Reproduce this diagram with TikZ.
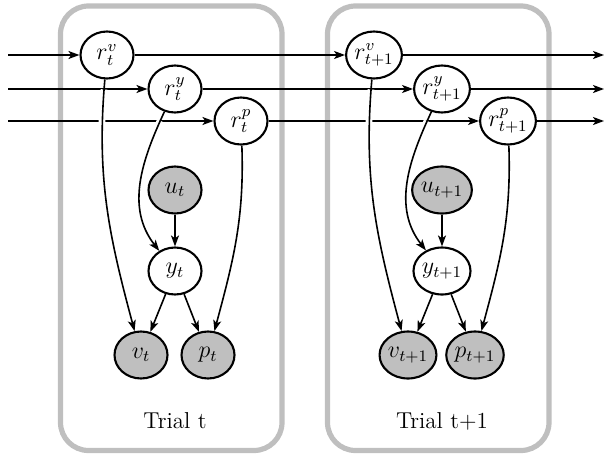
\documentclass[tikz,border=0pt]{standalone}
\usetikzlibrary{shapes.geometric,arrows.meta}
\begin{document}
\begin{tikzpicture}[x=0.5pt,y=0.5pt,
  var/.style={ellipse,draw,line width=1.05pt,minimum width=26.5pt,minimum height=23.5pt,inner sep=0pt,fill=white},
  obs/.style={var,fill=black!25},
  arr/.style={line width=0.8pt,-{Stealth[length=5.5pt,width=4pt,inset=1.4pt]}},
  cross/.style={arr,preaction={draw,white,line width=3.4pt,-,shorten >=8pt,shorten <=5pt}},
  plate/.style={draw=black!25,line width=2.6pt,rounded corners=14pt},
  font=\fontsize{11.5}{13.5}\selectfont]
\useasboundingbox (0,0) rectangle (606,-455);
% plates
\draw[plate] (60.5,-6) rectangle (282,-450.5);
\draw[plate] (327.5,-6) rectangle (549,-450.5);
\node (lab1) at (175,-421) {Trial t};
\node (lab2) at (442,-421) {Trial t+1};
% trial t nodes
\node[var] (rv1) at (107,-55) {$r^{v}_{t}$};
\node[var] (ry1) at (175,-89) {$r^{y}_{t}$};
\node[var] (rp1) at (241,-121) {$r^{p}_{t}$};
\node[obs] (u1) at (175,-190) {$u_{t}$};
\node[var] (y1) at (175,-271) {$y_{t}$};
\node[obs] (v1) at (141,-355) {$v_{t}$};
\node[obs] (p1) at (208,-355) {$p_{t}$};
% trial t+1 nodes
\node[var] (rv2) at (374,-55) {$r^{v}_{t+1}$};
\node[var] (ry2) at (442,-89) {$r^{y}_{t+1}$};
\node[var] (rp2) at (508,-121) {$r^{p}_{t+1}$};
\node[obs] (u2) at (442,-190) {$u_{t+1}$};
\node[var] (y2) at (442,-271) {$y_{t+1}$};
\node[obs] (v2) at (408,-355) {$v_{t+1}$};
\node[obs] (p2) at (475,-355) {$p_{t+1}$};
% free ends
\coordinate (s1) at (8,-55);
\coordinate (s2) at (8,-89);
\coordinate (s3) at (8,-121);
\coordinate (e1) at (604,-55);
\coordinate (e2) at (604,-89);
\coordinate (e3) at (604,-121);
% horizontal chains
\draw[arr] (s1) -- (rv1);
\draw[arr] (rv1) -- (rv2);
\draw[arr] (rv2) -- (e1);
\draw[arr] (s2) -- (ry1);
\draw[arr] (ry1) -- (ry2);
\draw[arr] (ry2) -- (e2);
\draw[arr] (s3) -- (rp1);
\draw[arr] (rp1) -- (rp2);
\draw[arr] (rp2) -- (e3);
% trial t edges
\draw[cross] (rv1) to[out=265,in=105] (v1);
\draw[cross] (ry1) to[out=245,in=128] (y1);
\draw[arr] (rp1) to[out=272,in=75] (p1);
\draw[arr] (u1) -- (y1);
\draw[arr] (y1) -- (v1);
\draw[arr] (y1) -- (p1);
% trial t+1 edges
\draw[cross] (rv2) to[out=265,in=105] (v2);
\draw[cross] (ry2) to[out=245,in=128] (y2);
\draw[arr] (rp2) to[out=272,in=75] (p2);
\draw[arr] (u2) -- (y2);
\draw[arr] (y2) -- (v2);
\draw[arr] (y2) -- (p2);
\end{tikzpicture}
\end{document}
